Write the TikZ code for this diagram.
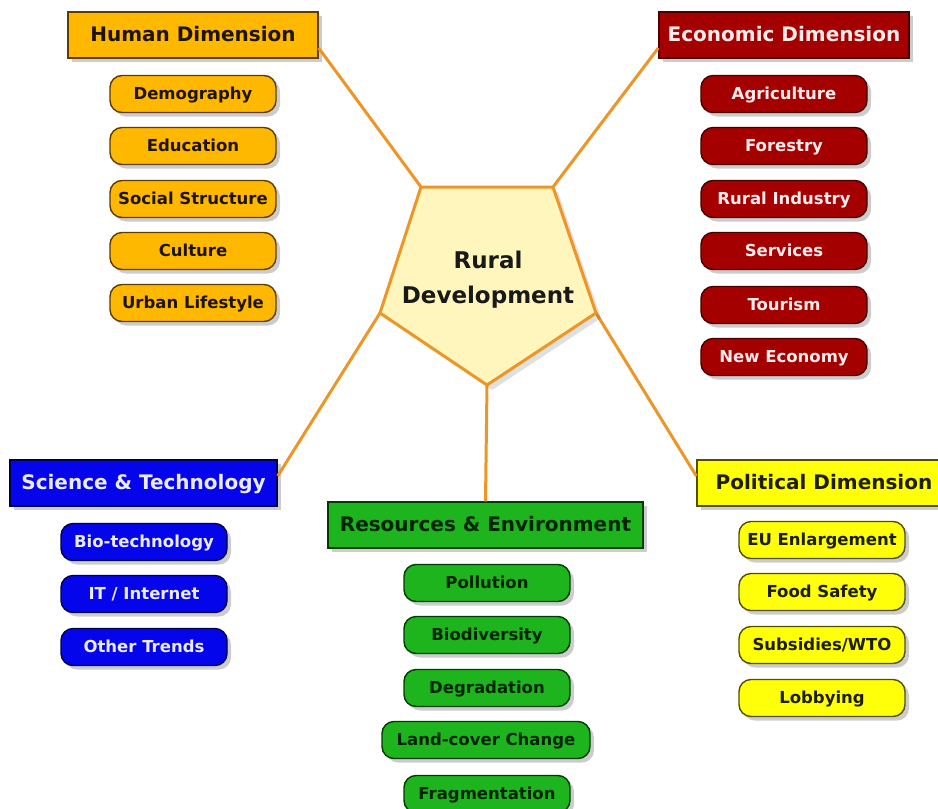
\documentclass[tikz,border=0pt]{standalone}
\usepackage{fontspec}
\setmainfont{DejaVu Sans}
\usetikzlibrary{shadows}
\definecolor{hum}{RGB}{255,184,0}
\definecolor{humd}{RGB}{95,60,0}
\definecolor{humt}{RGB}{30,20,0}
\definecolor{eco}{RGB}{165,0,0}
\definecolor{ecod}{RGB}{70,0,0}
\definecolor{ecot}{RGB}{255,235,235}
\definecolor{sci}{RGB}{5,5,235}
\definecolor{scid}{RGB}{0,0,70}
\definecolor{scit}{RGB}{235,235,255}
\definecolor{res}{RGB}{30,180,30}
\definecolor{resd}{RGB}{0,60,0}
\definecolor{rest}{RGB}{0,35,0}
\definecolor{pol}{RGB}{255,255,10}
\definecolor{pold}{RGB}{80,80,0}
\definecolor{polt}{RGB}{30,30,0}
\definecolor{link}{RGB}{236,150,40}
\definecolor{pent}{RGB}{255,246,190}
\tikzset{
  shd/.style={drop shadow={shadow xshift=4pt,shadow yshift=-4pt,opacity=0.2,fill=black}},
  hdr/.style={shd,draw,line width=1.4pt,rectangle,minimum height=46pt,inner sep=0pt,
    text height=14pt,text depth=1pt,font=\fontsize{20}{22}\selectfont\bfseries},
  sub/.style={shd,draw,line width=1.4pt,rounded corners=12pt,minimum width=166pt,
    minimum height=37pt,inner sep=0pt,text height=12pt,text depth=0.5pt,
    font=\fontsize{16.5}{18}\selectfont\bfseries},
  humc/.style={fill=hum,draw=humd,text=humt},
  ecoc/.style={fill=eco,draw=ecod,text=ecot},
  scic/.style={fill=sci,draw=scid,text=scit},
  resc/.style={fill=res,draw=resd,text=rest},
  polc/.style={fill=pol,draw=pold,text=polt},
  conn/.style={draw=link,line width=3pt},
}
\begin{document}
\begin{tikzpicture}[x=1pt,y=-1pt]
\useasboundingbox[fill=white] (0,0) rectangle (938,809);
% pentagon vertices
\coordinate (p1) at (421,187);
\coordinate (p2) at (553,187);
\coordinate (p3) at (596,313);
\coordinate (p4) at (487,385);
\coordinate (p5) at (380,313);
% headers
\node[hdr,humc,minimum width=250pt] (hd) at (193,35) {Human Dimension};
\node[hdr,ecoc,minimum width=250pt] (ed) at (784,35) {Economic Dimension};
\node[hdr,scic,minimum width=267pt] (st) at (143.5,483) {Science \& Technology};
\node[hdr,resc,minimum width=315pt] (re) at (485.5,525) {Resources \& Environment};
\node[hdr,polc,minimum width=254pt] (pd) at (824,483) {Political Dimension};
% connectors
\draw[conn] (p1) -- ([yshift=-13pt]hd.east);
\draw[conn] (p2) -- ([yshift=-13pt]ed.west);
\draw[conn] (p5) -- ([yshift=7pt]st.east);
\draw[conn] (p3) -- ([yshift=7pt]pd.west);
\draw[conn] (p4) -- (re.north);
% centre
\filldraw[fill=pent,draw=link,line width=3pt,line join=round,
  drop shadow={shadow xshift=5pt,shadow yshift=-5pt,opacity=0.12,fill=black}]
  (p1) -- (p2) -- (p3) -- (p4) -- (p5) -- cycle;
\node[font=\fontsize{23}{35}\selectfont\bfseries,align=center,text=black!90] (rd) at (488,280)
  {Rural\\Development};
% human
\node[sub,humc] (h1) at (193,94) {Demography};
\node[sub,humc] (h2) at (193,146) {Education};
\node[sub,humc] (h3) at (193,199) {Social Structure};
\node[sub,humc] (h4) at (193,251) {Culture};
\node[sub,humc] (h5) at (193,303) {Urban Lifestyle};
% economic
\node[sub,ecoc] (e1) at (784,94) {Agriculture};
\node[sub,ecoc] (e2) at (784,146) {Forestry};
\node[sub,ecoc] (e3) at (784,199) {Rural Industry};
\node[sub,ecoc] (e4) at (784,251) {Services};
\node[sub,ecoc] (e5) at (784,305) {Tourism};
\node[sub,ecoc] (e6) at (784,357) {New Economy};
% science
\node[sub,scic] (s1) at (144,542) {Bio-technology};
\node[sub,scic] (s2) at (144,594) {IT / Internet};
\node[sub,scic] (s3) at (144,647) {Other Trends};
% resources
\node[sub,resc] (r1) at (487,583) {Pollution};
\node[sub,resc] (r2) at (487,635) {Biodiversity};
\node[sub,resc] (r3) at (487,688) {Degradation};
\node[sub,resc,minimum width=208pt] (r4) at (486,740) {Land-cover Change};
\node[sub,resc] (r5) at (487,794) {Fragmentation};
% political
\node[sub,polc] (q1) at (822,540) {EU Enlargement};
\node[sub,polc] (q2) at (822,592) {Food Safety};
\node[sub,polc] (q3) at (822,645) {Subsidies/WTO};
\node[sub,polc] (q4) at (822,698) {Lobbying};
\end{tikzpicture}
\end{document}
